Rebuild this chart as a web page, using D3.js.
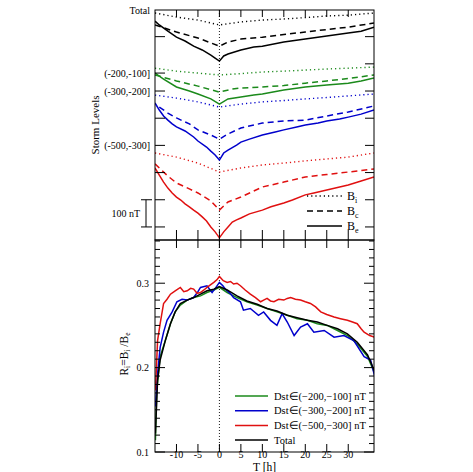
<!DOCTYPE html>
<html><head><meta charset="utf-8">
<script src="https://cdn.jsdelivr.net/npm/d3@7"></script>
<style>body{margin:0;background:#fff}svg{display:block}text{font-family:"Liberation Serif","Times New Roman",serif;fill:#000}</style>
</head><body><svg id="c" width="473" height="472"></svg>
<script>
// ---------- data ----------
const xTicks = [-10,-5,0,5,10,15,20,25,30];
const levelLabels = [["Total",798],["(-200,-100]",566],["(-300,-200]",500],["(-500,-300]",300]];
const levelTicks = [0,100,200,300,400,500,566,700];
const rightLevelTicks = [0,100,200,300,400,500,600,700];
const groupColors = ["#000000","#1b8a1b","#0000cc","#e01010"];
// top panel: storm-level offsets (nT) for each group, [t, level]
const totBi = [[-15,787],[-10,772],[-5,761],[0,743],[5,754],[10,761],[15,765],[20,770],[25,776],[30,779],[36,787]];
const totBc = [[-15,743],[-10,717],[-5,695],[0,665],[2,680],[5,691],[10,698],[15,708],[20,717],[25,726],[30,735],[36,750]];
const totBe = [[-15,757],[-14,743],[-12,720],[-10,698],[-8,684],[-6,665],[-4,651],[-2,632],[-1,621],[0,610],[1,629],[2,636],[5,651],[8,662],[10,665],[15,680],[20,691],[25,702],[30,713],[33,720],[36,735]];
const grnBi = [[-15,584],[-10,573],[-5,566],[0,559],[5,564],[10,570],[15,573],[20,577],[25,581],[30,584],[36,588]];
const grnBc = [[-15,559],[-10,537],[-5,518],[0,496],[3,507],[5,511],[10,515],[15,520],[20,529],[25,537],[30,546],[36,559]];
const grnBe = [[-15,566],[-13,544],[-10,515],[-7,500],[-5,489],[-2,471],[0,452],[2,471],[5,478],[8,485],[10,489],[15,504],[20,515],[25,522],[30,529],[33,537],[36,548]];
const bluBi = [[-15,485],[-10,474],[-5,460],[0,441],[5,452],[10,460],[15,465],[20,471],[25,476],[30,482],[36,489]];
const bluBc = [[-14,441],[-12,419],[-10,401],[-7,379],[-5,357],[-2,338],[0,323],[2,342],[5,364],[10,382],[15,390],[20,393],[25,408],[30,423],[36,445]];
const bluBe = [[-15,456],[-14,430],[-13,408],[-12,393],[-11,379],[-10,368],[-8,353],[-6,331],[-5,316],[-3,294],[-2,279],[-1,265],[0,246],[1,272],[2,283],[4,301],[5,312],[7,323],[10,338],[13,349],[15,357],[18,368],[20,375],[23,382],[25,390],[28,397],[30,404],[33,415],[36,430]];
const redBi = [[-15,272],[-10,257],[-5,235],[0,202],[5,217],[10,228],[15,235],[20,243],[25,250],[30,257],[36,272]];
const redBc = [[-15,232],[-12,187],[-10,162],[-7,140],[-5,125],[-2,96],[0,62],[2,92],[5,110],[10,147],[15,165],[20,184],[25,193],[30,202],[36,213]];
const redBe = [[-15,217],[-14,191],[-13,165],[-12,143],[-11,125],[-10,110],[-9,99],[-8,85],[-7,74],[-6,62],[-5,51],[-4,37],[-3,22],[-2,0],[-1,-18],[0,-40],[1,-18],[2,0],[3,18],[4,26],[5,33],[7,48],[10,62],[12,74],[15,88],[17,99],[20,118],[22,125],[25,136],[28,147],[30,154],[33,169],[36,184]];
// bottom panel: R_i = B_i/B_e, [t, ratio]
const rGreen = [[-14.9,0.114],[-14.6,0.173],[-13.8,0.213],[-12.6,0.232],[-11.4,0.252],[-10.3,0.266],[-9.1,0.274],[-7.5,0.280],[-6,0.283],[-4.4,0.285],[-2.9,0.289],[-1.3,0.292],[0,0.295],[1.8,0.289],[4.1,0.283],[6.4,0.278],[8.8,0.274],[11.1,0.270],[13.4,0.266],[15.8,0.262],[18.1,0.258],[20.5,0.256],[22.8,0.252],[25.1,0.250],[27.5,0.244],[29.8,0.238],[32.1,0.228],[34.5,0.213],[36.2,0.193]];
const rBlue = [[-14.9,0.154],[-14.4,0.193],[-13.8,0.224],[-13,0.242],[-12.2,0.256],[-11,0.266],[-9.9,0.278],[-8.7,0.281],[-7.5,0.280],[-6,0.283],[-5,0.290],[-4.4,0.295],[-2.9,0.297],[-1.7,0.289],[-0.8,0.295],[0,0.301],[0.8,0.297],[1.4,0.293],[2.5,0.288],[3.3,0.283],[4.9,0.278],[5.6,0.268],[7.2,0.270],[9.1,0.262],[10.3,0.266],[11.9,0.256],[13.4,0.250],[14.6,0.264],[15.8,0.254],[17.4,0.238],[18.9,0.248],[20.5,0.252],[22,0.242],[24.4,0.244],[26.7,0.236],[29,0.238],[31.3,0.232],[33.7,0.213],[35.2,0.209],[36.2,0.189]];
const rRed = [[-14.9,0.173],[-14.4,0.232],[-13.8,0.252],[-13,0.276],[-12.2,0.281],[-11.4,0.287],[-10.3,0.291],[-9.1,0.295],[-8.3,0.290],[-7.5,0.291],[-6.7,0.294],[-6,0.293],[-5.2,0.288],[-4.4,0.289],[-3.6,0.292],[-2.9,0.295],[-2.1,0.298],[-1.3,0.301],[-0.6,0.304],[0,0.308],[0.9,0.303],[1.8,0.301],[2.6,0.302],[3.3,0.299],[4.1,0.300],[4.9,0.297],[6,0.292],[7.2,0.287],[8.4,0.283],[9.6,0.278],[10.3,0.280],[11.1,0.282],[11.9,0.279],[12.7,0.278],[13.8,0.281],[15,0.280],[15.8,0.282],[16.6,0.283],[17.7,0.281],[18.9,0.280],[20,0.278],[21.2,0.276],[22.4,0.272],[23.6,0.266],[25,0.263],[26.7,0.260],[28.2,0.258],[29.8,0.256],[31,0.254],[32.1,0.252],[33,0.246],[33.7,0.242],[35,0.238],[36.2,0.236]];
const rTotal = [[-14.9,0.122],[-14.4,0.185],[-13.8,0.209],[-12.6,0.232],[-11.4,0.252],[-10.3,0.266],[-9.1,0.276],[-7.5,0.280],[-6,0.283],[-4.4,0.287],[-2.9,0.291],[-1.3,0.293],[0,0.296],[1.8,0.292],[4.1,0.285],[6.4,0.279],[8.8,0.275],[11.1,0.270],[13.4,0.267],[15.8,0.262],[18.1,0.259],[20.5,0.256],[22.8,0.254],[25.1,0.250],[27.5,0.246],[29.8,0.240],[32.1,0.230],[34.5,0.215],[36.2,0.195]];
const rTicksMajor = [0.1,0.2,0.3];
const legendTop = [["i","1.2,3"],["c","6,4"],["e",null]];
const legendBottom = [["Dst∈(−200,−100] nT","#1b8a1b"],["Dst∈(−300,−200] nT","#0000cc"],["Dst∈(−500,−300] nT","#e01010"],["Total","#000000"]];

// ---------- layout ----------
const L=155,R=374,T1=10,B1=240,T2=240,B2=452;
const svg=d3.select("#c");
const x=d3.scaleLinear().domain([-15,36]).range([L,R]);
const y1=d3.scaleLinear().domain([-48,798]).range([B1,T1]);
const y2=d3.scaleLinear().domain([0.1,0.3512]).range([B2,T2]);

svg.append("defs").call(d=>{
  d.append("clipPath").attr("id","cp1").append("rect").attr("x",L).attr("y",T1).attr("width",R-L).attr("height",B1-T1);
  d.append("clipPath").attr("id","cp2").append("rect").attr("x",L).attr("y",T2).attr("width",R-L).attr("height",B2-T2);
});

// vertical dotted line at T=0
svg.append("line").attr("x1",x(0)).attr("x2",x(0)).attr("y1",T1).attr("y2",B2)
  .attr("stroke","#000").attr("stroke-width",0.9).attr("stroke-dasharray","1,2");

const line1=d3.line().x(d=>x(d[0])).y(d=>y1(d[1]));
const line2=d3.line().x(d=>x(d[0])).y(d=>y2(d[1]));
const g1=svg.append("g").attr("clip-path","url(#cp1)");
const groups=[[totBi,totBc,totBe],[grnBi,grnBc,grnBe],[bluBi,bluBc,bluBe],[redBi,redBc,redBe]];
groups.forEach((grp,gi)=>{
  grp.forEach((ser,si)=>{
    g1.append("path").datum(ser).attr("d",line1).attr("fill","none")
      .attr("stroke",groupColors[gi]).attr("stroke-width",si===0?1.4:1.5)
      .attr("stroke-dasharray",legendTop[si][1]);
  });
});
const g2=svg.append("g").attr("clip-path","url(#cp2)");
[[rGreen,"#1b8a1b"],[rBlue,"#0000cc"],[rRed,"#e01010"],[rTotal,"#000000"]].forEach(([s,c])=>{
  g2.append("path").datum(s).attr("d",line2).attr("fill","none").attr("stroke",c).attr("stroke-width",1.5);
});

// frames
[[T1,B1],[T2,B2]].forEach(([t,b])=>svg.append("rect").attr("x",L).attr("y",t).attr("width",R-L).attr("height",b-t)
  .attr("fill","none").attr("stroke","#000").attr("stroke-width",1));

// x ticks
const tk=(x1,y1_,x2,y2_)=>svg.append("line").attr("x1",x1).attr("y1",y1_).attr("x2",x2).attr("y2",y2_).attr("stroke","#000").attr("stroke-width",1);
xTicks.forEach(v=>{
  const px=x(v);
  tk(px,T1,px,T1+7); tk(px,B1-10,px,B1); tk(px,T2,px,T2+8); tk(px,B2-8,px,B2);
  svg.append("text").attr("x",px).attr("y",457.5).attr("text-anchor","middle").attr("font-size",10).text(v);
});
svg.append("text").attr("x",(L+R)/2).attr("y",470.5).attr("text-anchor","middle").attr("font-size",11.5).text("T [h]");

// top panel y ticks
levelTicks.forEach(v=>tk(L,y1(v),L+10,y1(v)));
rightLevelTicks.forEach(v=>tk(R-9,y1(v),R,y1(v)));
levelLabels.forEach(([s,v])=>svg.append("text").attr("x",150).attr("y",y1(v)).attr("dy","0.35em")
  .attr("text-anchor","end").attr("font-size",10).text(s));
svg.append("text").attr("transform",`translate(99,${(T1+B1)/2}) rotate(-90)`).attr("text-anchor","middle")
  .attr("font-size",11).text("Storm Levels");
// 100 nT bar
const bTop=y1(100), bBot=y1(0);
tk(146,bTop,146,bBot); tk(141,bTop,152,bTop); tk(141,bBot,152,bBot);
svg.append("text").attr("x",140).attr("y",(bTop+bBot)/2).attr("dy","0.35em").attr("text-anchor","end").attr("font-size",10).text("100 nT");

// top legend
legendTop.forEach(([sub,dash],i)=>{
  const ly=[196,211,226][i];
  svg.append("line").attr("x1",307).attr("x2",342).attr("y1",ly).attr("y2",ly).attr("stroke","#000")
    .attr("stroke-width",1.5).attr("stroke-dasharray",dash);
  const t=svg.append("text").attr("x",347).attr("y",ly).attr("dy","0.35em").attr("font-size",12);
  t.append("tspan").text("B");
  t.append("tspan").attr("font-size",8).attr("dy","3").text(sub);
});

// bottom y ticks
for(let k=10;k<=35;k++){
  const v=k/100, major=(k%10===0), py=y2(v);
  tk(L,py,L+(major?10:5),py); tk(R-(major?10:5),py,R,py);
}
rTicksMajor.forEach(v=>svg.append("text").attr("x",149).attr("y",y2(v)).attr("dy","0.35em").attr("text-anchor","end").attr("font-size",10).text(v));
const yl=svg.append("text").attr("transform",`translate(128,${(T2+B2)/2+8}) rotate(-90)`).attr("text-anchor","middle").attr("font-size",11.5);
yl.append("tspan").text("R");
yl.append("tspan").attr("font-size",7.5).attr("dy",2).text("i");
yl.append("tspan").attr("dy",-2).text("=B");
yl.append("tspan").attr("font-size",7.5).attr("dy",2).text("i");
yl.append("tspan").attr("dy",-2).text(" /B");
yl.append("tspan").attr("font-size",7.5).attr("dy",2).text("e");

// bottom legend
legendBottom.forEach(([s,c],i)=>{
  const ly=396+i*14.7;
  svg.append("line").attr("x1",235).attr("x2",268).attr("y1",ly).attr("y2",ly).attr("stroke",c).attr("stroke-width",1.5);
  svg.append("text").attr("x",274).attr("y",ly).attr("dy","0.35em").attr("font-size",10.5).text(s);
});
</script></body></html>
